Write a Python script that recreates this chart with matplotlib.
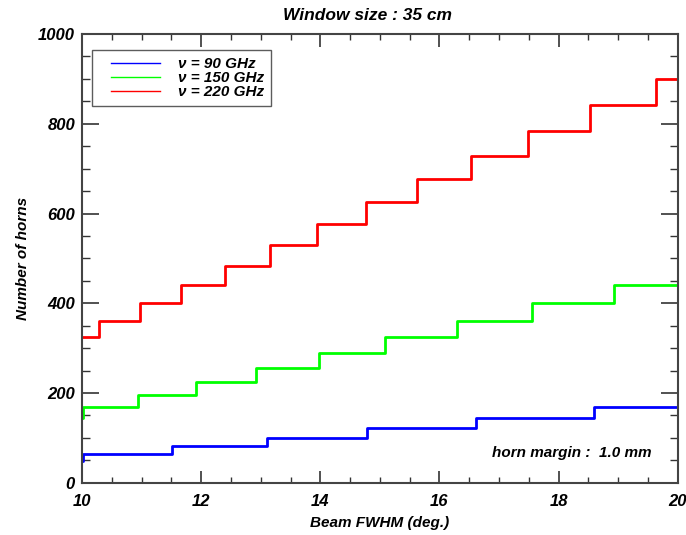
import matplotlib
matplotlib.use("Agg")
import matplotlib.pyplot as plt
from matplotlib.ticker import MultipleLocator

plt.rcParams['font.family'] = ['Liberation Sans', 'DejaVu Sans']
plt.rcParams['font.weight'] = 'bold'
plt.rcParams['font.style'] = 'italic'
plt.rcParams['axes.titleweight'] = 'bold'
plt.rcParams['axes.labelweight'] = 'bold'

# Step edges (FWHM, deg.) and number of horns after each edge
x_90 = [10.0, 10.02, 11.51, 13.11, 14.79, 16.61, 18.60, 20.0]
n_90 = [49, 64, 81, 100, 121, 144, 169, 169]

x_150 = [10.0, 10.02, 10.94, 11.91, 12.92, 13.98, 15.09, 16.29, 17.55, 18.93, 20.0]
n_150 = [144, 169, 196, 225, 256, 289, 324, 361, 400, 441, 441]

x_220 = [10.0, 10.29, 10.97, 11.66, 12.40, 13.16, 13.95, 14.77, 15.62, 16.53,
         17.49, 18.52, 19.64, 20.0]
n_220 = [324, 361, 400, 441, 484, 529, 576, 625, 676, 729, 784, 841, 900, 900]

series = [
    (x_90, n_90, '#0000ff', 'ν = 90 GHz'),
    (x_150, n_150, '#00ff00', 'ν = 150 GHz'),
    (x_220, n_220, '#ff0000', 'ν = 220 GHz'),
]

fig = plt.figure(figsize=(6.86, 5.35), dpi=100)
ax = fig.add_axes([0.1195, 0.0977, 0.8685, 0.8387])

for x, n, c, lab in series:
    ax.step(x, n, where='post', color=c, lw=2.0)
    ax.plot([], [], color=c, lw=1.0, label=lab)

ax.set_xlim(10, 20)
ax.set_ylim(0, 1000)
ax.xaxis.set_major_locator(MultipleLocator(2))
ax.xaxis.set_minor_locator(MultipleLocator(0.5))
ax.yaxis.set_major_locator(MultipleLocator(200))
ax.yaxis.set_minor_locator(MultipleLocator(50))
ax.tick_params(axis='x', which='major', direction='in', length=9, width=1.2,
               top=True, labelsize=12, pad=8, color='#333333')
ax.tick_params(axis='x', which='minor', direction='in', length=4.5, width=1.0,
               top=True, color='#333333')
ax.tick_params(axis='y', which='major', direction='in', length=12, width=1.2,
               right=True, labelsize=12, pad=5, color='#333333')
ax.tick_params(axis='y', which='minor', direction='in', length=6, width=1.0,
               right=True, color='#333333')
for s in ax.spines.values():
    s.set_linewidth(1.5)
    s.set_color('#444444')

ax.set_title('Window size : 35 cm', fontsize=12.5, pad=10, x=0.48)
ax.set_xlabel('Beam FWHM (deg.)', fontsize=11, labelpad=5)
ax.set_ylabel('Number of horns', fontsize=11, labelpad=6)

ax.text(0.956, 0.066, 'horn margin :  1.0 mm', transform=ax.transAxes,
        ha='right', va='center', fontsize=11)

leg = ax.legend(loc='upper left', bbox_to_anchor=(0.017, 0.964), fontsize=11,
                frameon=True, fancybox=False, numpoints=2,
                handlelength=4.8, handletextpad=0.4, borderpad=0.45,
                labelspacing=0.0, borderaxespad=0)
leg.get_frame().set_edgecolor('#333333')
leg.get_frame().set_linewidth(1.0)
for h in leg.legend_handles:
    xd = h.get_xdata()
    span = xd[-1] - xd[0]
    h.set_xdata([xd[0] + 0.12 * span, xd[-1] - 0.12 * span])

fig.savefig('out.png', dpi=100)
